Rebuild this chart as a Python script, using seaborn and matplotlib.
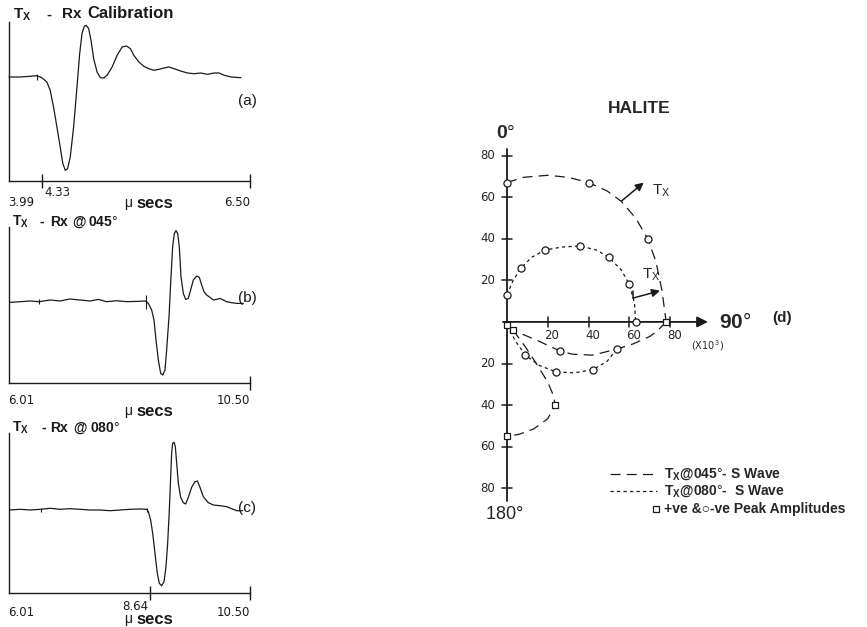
import numpy as np
import pandas as pd
import matplotlib
matplotlib.use("Agg")
import matplotlib.pyplot as plt
import seaborn as sns

# ---------------- data: waveform (a) calibration ----------------
t_a = [3.990, 4.105, 4.210, 4.279, 4.332, 4.384, 4.419, 4.454, 4.489, 4.523,
       4.551, 4.576, 4.600, 4.628, 4.663, 4.698, 4.726, 4.750, 4.774, 4.795,
       4.820, 4.844, 4.872, 4.907, 4.942, 4.977, 5.011, 5.064, 5.116, 5.168,
       5.214, 5.255, 5.290, 5.343, 5.395, 5.447, 5.500, 5.552, 5.604, 5.656,
       5.709, 5.778, 5.848, 5.918, 5.988, 6.057, 6.127, 6.179, 6.232, 6.301,
       6.406]
amp_a = [0, 0, 0.7, 1.3, -0.7, -5, -13.3, -30, -50, -70,
         -86.7, -93.3, -91.7, -80, -50, -10, 23.3, 43.3, 50.7, 51.7,
         48.3, 36.7, 18.3, 5, -0.7, -1, 1.7, 10, 21.7, 30,
         31, 28.3, 21.7, 15, 10.7, 8.3, 6.7, 7.7, 9, 10,
         8.3, 6, 4, 3.3, 4, 2.7, 4, 4, 1.7, 0,
         -0.7]
marks_a = [4.279]

# ---------------- data: waveform (b) Tx-Rx @ 045 ----------------
t_b = [6.029, 6.215, 6.401, 6.575, 6.774, 6.960, 7.146, 7.333, 7.519, 7.674,
       7.830, 8.016, 8.202, 8.388, 8.556, 8.606, 8.668, 8.711, 8.749, 8.792,
       8.836, 8.873, 8.916, 8.947, 8.991, 9.028, 9.059, 9.090, 9.121, 9.152,
       9.183, 9.214, 9.258, 9.301, 9.351, 9.394, 9.444, 9.506, 9.556, 9.599,
       9.643, 9.693, 9.755, 9.817, 9.879, 9.941, 10.003, 10.065, 10.158, 10.251,
       10.376]
amp_b = [-0.7, 0, 0.7, 0, 1.7, 0.7, 2.7, 1.7, 0.7, 2.3,
         0, 1, 0, 0.3, 0.7, -1.7, -8.3, -18.3, -38.3, -58.3,
         -71.7, -73.3, -68.3, -48.3, -15, 25, 55, 68.3, 71, 68.3,
         55, 25, 8.3, 2.3, 3.3, 11.7, 21.7, 25.7, 24.3, 16.7,
         10, 6.7, 4.3, 1.7, 2.3, 3.3, 1.7, 0, -1, -1.7,
         -1.7]
marks_b = [6.575, 8.556]

# ---------------- data: waveform (c) Tx-Rx @ 080 ----------------
t_c = [6.029, 6.215, 6.401, 6.600, 6.774, 6.960, 7.146, 7.333, 7.519, 7.705,
       7.892, 8.078, 8.264, 8.450, 8.575, 8.606, 8.649, 8.687, 8.730, 8.773,
       8.811, 8.854, 8.898, 8.935, 8.966, 8.997, 9.022, 9.040, 9.059, 9.084,
       9.109, 9.134, 9.165, 9.208, 9.258, 9.301, 9.351, 9.413, 9.475, 9.519,
       9.568, 9.630, 9.724, 9.817, 9.941, 10.065, 10.158, 10.251, 10.363]
amp_c = [0, 0.7, 0, 0.7, 1.7, 0.7, 1.3, 0.7, 0, 0,
         -0.7, 0, 0.7, 1, 0.7, -1.7, -10, -23.3, -43.3, -63.3,
         -73.3, -75.7, -71.7, -56.7, -33.3, 0, 33.3, 56.7, 66.7, 67.7,
         63.3, 46.7, 26.7, 12.7, 7.3, 6, 12.7, 22.7, 28.3, 29,
         22.7, 13.3, 7.3, 5, 4.3, 3.3, 1.3, -0.7, -0.7]
marks_c = [6.600, 8.575]

# ---------------- data: polar amplitude plot (d), x10^3 ----------------
s045_up_x = [0, 8, 20, 30, 40, 49, 56, 63, 69, 73, 76, 78]
s045_up_y = [67, 69.5, 70.5, 69.5, 67, 63, 58, 50, 40, 29, 15, 0]
s045_lo_x = [78, 74, 70, 62, 54, 42, 32, 26, 15, 3]
s045_lo_y = [0, -4, -7, -10.5, -13, -16, -15.5, -14, -9, -4]
s045_loop_x = [3, 9, 15, 20, 23, 23.5, 20, 13, 6, 0]
s045_loop_y = [-4, -12, -21, -29, -36, -40, -46.5, -51.5, -54, -55]
s080_up_x = [0, 3, 7, 12, 18.6, 27, 36, 44, 50, 56, 60, 62.5, 63]
s080_up_y = [13, 20, 26, 31, 34.6, 36, 36.5, 34.5, 31, 25, 18, 9, 0]
s080_lo_x = [0, 4, 9, 16, 24, 33, 42, 49, 54]
s080_lo_y = [-1.5, -9, -16, -21, -24, -24.5, -23, -19, -13]
circ_x = [0, 40, 69, 0, 7, 18.6, 36, 50, 60, 63, 26, 54, 9, 24, 42]
circ_y = [67, 67, 40, 13, 26, 34.6, 36.5, 31, 18, 0, -14, -13, -16, -24, -23]
sq_x = [78, 0, 3, 23.5, 0]
sq_y = [0, -1.5, -4, -40, -55]
ticks_d = [20, 40, 60, 80]

# ---------------- style ----------------
sns.set_theme(style="white")
plt.rcParams["font.family"] = ["Liberation Sans", "DejaVu Sans"]
plt.rcParams["mathtext.fontset"] = "custom"
plt.rcParams["mathtext.rm"] = "Liberation Sans"
plt.rcParams["mathtext.bf"] = "Liberation Sans:bold"
plt.rcParams["mathtext.it"] = "Liberation Sans:italic"

W, H = 867, 627
fig = plt.figure(figsize=(W / 100, H / 100), dpi=100)
fig.patch.set_facecolor("white")


def box(l, t, r, b):
    return [l / W, 1 - b / H, (r - l) / W, (b - t) / H]


def ftext(x, y, s, **kw):
    kw.setdefault("va", "center")
    fig.text(x / W, 1 - y / H, s, color="k", **kw)


def wave_panel(l, t, r, b, times, amps, xlim, ylim, ticks, marks, mark_h):
    ax = fig.add_axes(box(l, t, r, b))
    sns.lineplot(x=times, y=amps, ax=ax, sort=False, estimator=None,
                 color="k", linewidth=0.9)
    ax.set_xlim(xlim)
    ax.set_ylim(ylim)
    for s in ["top", "right"]:
        ax.spines[s].set_visible(False)
    for s in ["left", "bottom"]:
        ax.spines[s].set_color("k")
        ax.spines[s].set_linewidth(1.0)
    ax.set_xticks(ticks)
    ax.set_xticklabels([])
    ax.set_yticks([])
    ax.tick_params(axis="x", bottom=True, direction="inout", length=10,
                   width=1, color="k")
    ax.vlines(marks, [-h for h in mark_h], mark_h, color="k", lw=0.8)
    ax.set_xlabel("")
    ax.set_ylabel("")
    for ln in ax.lines:
        ln.set_clip_on(False)
    return ax


def title(y, parts, fs=10):
    for x, s, *extra in parts:
        f = extra[0] if extra else fs
        ftext(x, y, s, fontsize=f, fontweight="bold", ha="left",
              va="baseline")


num_kw = dict(fontsize=8.5, family=["DejaVu Sans"])
usec_kw = dict(fontsize=12, fontweight="bold")


def usec(xc, y):
    ftext(xc - 22, y, "\u03bc", fontsize=10, ha="center")
    ftext(xc + 5, y, "secs", ha="center", **usec_kw)


TX = r"$\mathbf{T_X}$"

# (a)
wave_panel(9, 22, 250, 181, t_a, amp_a, (3.99, 6.50), (-104, 55),
           [4.33, 6.50], marks_a, [3])
title(18.5, [(13, TX, 11), (46, "-", 11), (62, "Rx", 11),
             (87, "Calibration", 12)])
ftext(247, 101, "(a)", fontsize=11, ha="center")
ftext(8, 203, "3.99", ha="left", **num_kw)
ftext(44, 192, "4.33", ha="left", **num_kw)
usec(150, 203)
ftext(250, 203, "6.50", ha="right", **num_kw)

# (b)
wave_panel(9, 227, 250, 383, t_b, amp_b, (6.01, 10.50), (-81.3, 74.7),
           [10.50], marks_b, [2.5, 7])
title(225.5, [(12, TX), (40, "-"), (50, "Rx"), (72, "@"),
              (88, r"045$\degree$")])
ftext(247, 298, "(b)", fontsize=11, ha="center")
ftext(8, 401, "6.01", ha="left", **num_kw)
ftext(250, 401, "10.50", ha="right", **num_kw)
usec(150, 411)

# (c)
wave_panel(9, 433, 250, 593, t_c, amp_c, (6.01, 10.50), (-83, 77),
           [8.64, 10.50], marks_c, [2, 2])
title(432, [(12, TX), (41, "-"), (50, "Rx"), (73, "@"),
            (90, r"080$\degree$")])
ftext(247, 508, "(c)", fontsize=11, ha="center")
ftext(8, 612, "6.01", ha="left", **num_kw)
ftext(135, 606, "8.64", ha="center", **num_kw)
ftext(250, 612, "10.50", ha="right", **num_kw)
usec(150, 619)

# (d) polar amplitude diagram
axd = fig.add_axes(box(465, 85, 865, 600))
axd.set_xlim(-20.6, 175.5)
axd.set_ylim(-133.7, 113.9)
axd.axis("off")

# axes drawn as lines
axd.plot([0, 0], [83, -86], color="k", lw=1.3)
axd.annotate("", xy=(98.5, 0), xytext=(-2, 0),
             arrowprops=dict(arrowstyle="-|>", color="k", lw=1.3,
                             mutation_scale=16, shrinkA=0, shrinkB=0))
for v in ticks_d:
    axd.plot([-2.5, 2.5], [v, v], color="k", lw=1.1)
    axd.plot([-2.5, 2.5], [-v, -v], color="k", lw=1.1)
    axd.plot([v, v], [-2.5, 2.5], color="k", lw=1.1)
    axd.text(-6, v, str(v), ha="right", va="center", fontsize=8.5,
             family=["DejaVu Sans"])
    axd.text(-6, -v, str(v), ha="right", va="center", fontsize=8.5,
             family=["DejaVu Sans"])
    axd.text(v + 2, -6.5, str(v), ha="center", va="center", fontsize=8.5,
             family=["DejaVu Sans"])

dash045 = (0, (8, 5))
dot080 = (0, (2.6, 2.6))
for xs, ys in [(s045_up_x, s045_up_y), (s045_lo_x, s045_lo_y),
               (s045_loop_x, s045_loop_y)]:
    sns.lineplot(x=xs, y=ys, ax=axd, sort=False, estimator=None, color="k",
                 linewidth=0.9, linestyle=dash045)
for xs, ys in [(s080_up_x, s080_up_y), (s080_lo_x, s080_lo_y)]:
    sns.lineplot(x=xs, y=ys, ax=axd, sort=False, estimator=None, color="k",
                 linewidth=0.9, linestyle=dot080)
sns.scatterplot(x=circ_x, y=circ_y, ax=axd, marker="o", s=26, color="white",
                edgecolor="k", linewidth=0.9, zorder=5)
sns.scatterplot(x=sq_x, y=sq_y, ax=axd, marker="s", s=22, color="white",
                edgecolor="k", linewidth=0.9, zorder=5)
axd.set_xlabel("")
axd.set_ylabel("")

# arrows and labels
arr = dict(arrowstyle="-|>", color="k", lw=1.1, mutation_scale=12,
           shrinkA=0, shrinkB=0)
axd.annotate("", xy=(67, 67), xytext=(56, 58), arrowprops=arr)
axd.text(71, 63, r"$\mathrm{T_X}$", fontsize=11, ha="left", va="center")
axd.plot([62, 62], [15, 11.5], color="k", lw=1.1)
axd.annotate("", xy=(75, 15), xytext=(62, 11.5), arrowprops=arr)
axd.text(66, 22.5, r"$\mathrm{T_X}$", fontsize=11, ha="left", va="center")

axd.text(65, 102.5, "HALITE", fontsize=12.5, fontweight="bold", ha="center",
         va="center")
axd.text(-0.5, 90.5, r"0$\degree$", fontsize=14, fontweight="bold",
         ha="center", va="center")
axd.text(104, 0, r"90$\degree$", fontsize=15, fontweight="bold",
         ha="left", va="center")
axd.text(130, 2, "(d)", fontsize=11, fontweight="bold", ha="left",
         va="center")
axd.text(90, -11.5, r"(X10$^{\,3}$)", fontsize=7, ha="left", va="center",
         family=["DejaVu Sans"])
axd.text(-1.5, -92.5, r"180$\degree$", fontsize=13, ha="center", va="center")

# legend (manual)
axd.plot([50.5, 73.5], [-73, -73], color="k", lw=0.9, linestyle=dash045)
axd.plot([50.5, 73.5], [-81.5, -81.5], color="k", lw=0.9, linestyle=dot080)
axd.plot([73], [-90], marker="s", ms=4.5, mfc="white", mec="k", mew=0.9,
         ls="none")
leg_kw = dict(fontsize=10, fontweight="bold", ha="left", va="center")
axd.text(77, -73, TX + r"@045$\degree$- S Wave", **leg_kw)
axd.text(77, -81.5, TX + r"@080$\degree$-  S Wave", **leg_kw)
axd.text(77, -90, "+ve &\u25cb-ve Peak Amplitudes", **leg_kw)

fig.savefig("out.png", dpi=100, facecolor="white")
